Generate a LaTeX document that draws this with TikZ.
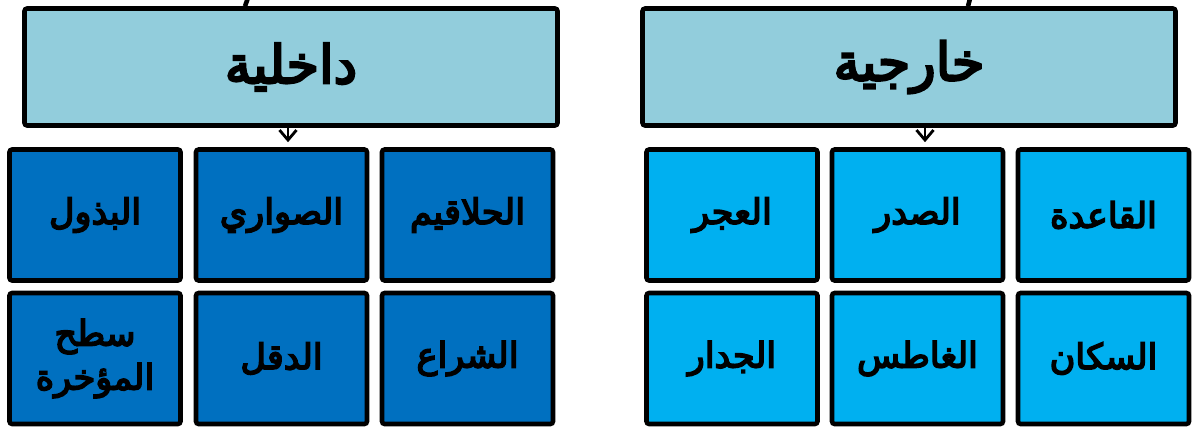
\documentclass[tikz,border=0pt]{standalone}
\usepackage{fontspec}
\usepackage{xcolor}
\usepackage{tikz}
\usetikzlibrary{arrows.meta, positioning}
\TeXXeTstate=1
\newfontfamily\arabicfont[Script=Arabic, FakeBold=4.5]{DejaVu Sans}
\definecolor{headblue}{RGB}{146,205,220}
\definecolor{deepcell}{RGB}{0,112,192}
\definecolor{skycell}{RGB}{0,176,240}

\begin{document}
\begin{tikzpicture}[
  >={Straight Barb[length=2mm, width=3.4mm, line width=1.6pt]},
  hdr/.style={draw=black, line width=2.6pt, rounded corners=1.5pt, fill=headblue,
    minimum width=10.66cm, minimum height=2.34cm, font=\arabicfont\fontsize{30}{34}\selectfont},
  cell/.style={draw=black, line width=2.6pt, rounded corners=1.5pt, align=center,
    minimum width=3.42cm, minimum height=2.62cm, font=\arabicfont\fontsize{20}{22}\selectfont},
  incell/.style={cell, fill=deepcell},
  excell/.style={cell, fill=skycell}
]
\useasboundingbox (0,0) rectangle (23.84,-8.6);
% headers
\node[hdr] (hin) at (5.82,-1.34) {\beginR داخلية\endR};
\node[hdr] (hex) at (18.18,-1.34) {\beginR خارجية\endR};
% stubs of the links from above
\coordinate (upL) at (4.98,0.1);
\coordinate (upR) at (19.42,0.1);
\draw[line width=2.6pt] (upL) -- ([xshift=-0.92cm]hin.north);
\draw[line width=2.6pt] (upR) -- ([xshift=1.18cm]hex.north);
% inner parts
\node[incell] (in1) at (9.35,-4.30) {\beginR الحلاقيم\endR};
\node[incell] (in2) at (5.63,-4.30) {\beginR الصواري\endR};
\node[incell] (in3) at (1.90,-4.30) {\beginR البذول\endR};
\node[incell] (in4) at (9.35,-7.17) {\beginR الشراع\endR};
\node[incell] (in5) at (5.63,-7.17) {\beginR الدقل\endR};
\node[incell] (in6) at (1.90,-7.17) {\beginR سطح\endR\\[3pt]\beginR المؤخرة\endR};
% outer parts
\node[excell] (ex1) at (22.07,-4.30) {\beginR القاعدة\endR};
\node[excell] (ex2) at (18.35,-4.30) {\beginR الصدر\endR};
\node[excell] (ex3) at (14.64,-4.30) {\beginR العجر\endR};
\node[excell] (ex4) at (22.07,-7.17) {\beginR السكان\endR};
\node[excell] (ex5) at (18.35,-7.17) {\beginR الغاطس\endR};
\node[excell] (ex6) at (14.64,-7.17) {\beginR الجدار\endR};
\draw[->, line width=1.6pt, shorten >=0.1cm] ([xshift=-0.06cm]hin.south) -- ([xshift=-0.06cm]hin.south |- in2.north);
\draw[->, line width=1.6pt, shorten >=0.1cm] ([xshift=0.32cm]hex.south) -- ([xshift=0.32cm]hex.south |- ex2.north);
\end{tikzpicture}
\end{document}
